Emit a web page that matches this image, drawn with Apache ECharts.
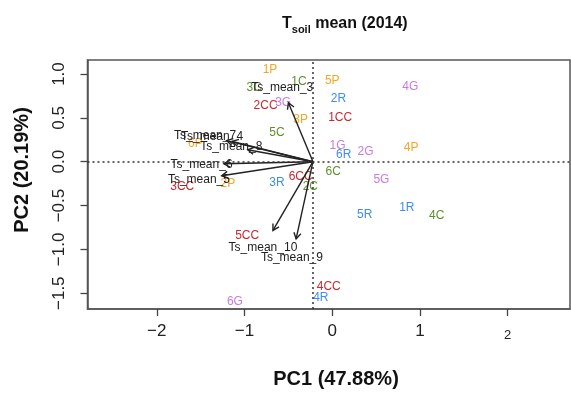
<!DOCTYPE html>
<html>
<head>
<meta charset="utf-8">
<script src="https://cdn.jsdelivr.net/npm/echarts@6/dist/echarts.min.js"></script>
<style>
  html, body { margin: 0; padding: 0; background: #fff; }
  #chart { width: 571px; height: 394px; }
</style>
</head>
<body>
<div id="chart"></div>
<script>
// PCA sample scores (label centre positions)
const sampleLabels = ['1P', '2P', '3P', '4P', '5P', '6P',
  '1C', '2C', '3C', '4C', '5C', '6C',
  '1CC', '2CC', '3CC', '4CC', '5CC', '6CC',
  '1R', '2R', '3R', '4R', '5R', '6R',
  '1G', '2G', '3G', '4G', '5G', '6G']
const samplePC1 = [-0.71, -1.19, -0.36, 0.90, 0.00, -1.56,
  -0.38, -0.25, -0.89, 1.19, -0.63, 0.01,
  0.09, -0.76, -1.71, -0.04, -0.97, -0.36,
  0.85, 0.07, -0.63, -0.13, 0.37, 0.13,
  0.06, 0.38, -0.56, 0.89, 0.56, -1.11]
const samplePC2 = [1.05, -0.25, 0.48, 0.16, 0.92, 0.21,
  0.91, -0.29, 0.84, -0.62, 0.33, -0.11,
  0.50, 0.64, -0.29, -1.43, -0.84, -0.17,
  -0.53, 0.72, -0.24, -1.55, -0.60, 0.08,
  0.18, 0.11, 0.67, 0.85, -0.20, -1.60]

// variable loadings (label positions; arrows drawn to 0.8 of these)
const loadingNames = ['Ts_mean_3', 'Ts_mean_7', 'Ts_mean_4', 'Ts_mean_8',
  'Ts_mean_6', 'Ts_mean_5', 'Ts_mean_10', 'Ts_mean_9']
const loadingPC1 = [-0.57, -1.45, -1.37, -1.15, -1.49, -1.52, -0.79, -0.46]
const loadingPC2 = [0.84, 0.30, 0.29, 0.17, -0.03, -0.20, -0.98, -1.10]
const biplotOrigin = [-0.22, 0]

const xTicks = [-2, -1, 0, 1, 2]
const yTicks = [-1.5, -1, -0.5, 0, 0.5, 1]

const groupColors = { P: '#f5a623', C: '#5e8f2c', CC: '#c8282e', R: '#3f8cf5', G: '#c97ae0' }
const FONT = 'Liberation Sans, Arial, sans-serif'

function groupOf(label) {
  return label.replace(/^\d+/, '')
}
function minus(v) {
  return v < 0 ? '\u2212' + String(Math.abs(v)) : String(v)
}

const chart = echarts.init(document.getElementById('chart'))

chart.setOption({
  animation: false,
  backgroundColor: '#fff',
  title: {
    left: 277,
    top: 8,
    text: '{t|T}{s|soil}{t| mean (2014)}',
    textStyle: {
      rich: {
        t: { fontSize: 16, fontWeight: 'bold', color: '#111', fontFamily: FONT, lineHeight: 22, verticalAlign: 'middle' },
        s: { fontSize: 11, fontWeight: 'bold', color: '#111', fontFamily: FONT, lineHeight: 22, verticalAlign: 'bottom' }
      }
    }
  },
  grid: { left: 87.5, right: 1, top: 60, bottom: 85, show: true, borderColor: '#555', borderWidth: 1.5 },
  xAxis: {
    type: 'value',
    min: -2.79,
    max: 2.71,
    splitLine: { show: false },
    axisLine: { show: true, onZero: false, lineStyle: { color: '#555', width: 1.5 } },
    axisTick: { show: true, length: 7, customValues: xTicks, lineStyle: { color: '#444', width: 1.3 } },
    axisLabel: {
      customValues: xTicks,
      margin: 14,
      fontSize: 17,
      color: '#222',
      fontFamily: FONT,
      formatter: v => v === 2 ? '{small|2}' : minus(v),
      rich: { small: { fontSize: 13, color: '#222', fontFamily: FONT, padding: [6, 0, 0, 0] } }
    }
  },
  yAxis: {
    type: 'value',
    min: -1.68,
    max: 1.16,
    splitLine: { show: false },
    axisLine: { show: true, onZero: false, lineStyle: { color: '#555', width: 1.5 } },
    axisTick: { show: true, length: 7, customValues: yTicks, lineStyle: { color: '#444', width: 1.3 } },
    axisLabel: {
      customValues: yTicks,
      rotate: 90,
      margin: 20,
      fontSize: 17,
      color: '#222',
      fontFamily: FONT,
      formatter: v => (v < 0 ? '\u2212' : '') + Math.abs(v).toFixed(1)
    }
  },
  graphic: [
    { type: 'text', x: 336, y: 379, style: { text: 'PC1 (47.88%)', font: 'bold 20px ' + FONT, fill: '#111', align: 'center', verticalAlign: 'middle' } },
    { type: 'text', x: 22, y: 170, rotation: Math.PI / 2, style: { text: 'PC2 (20.19%)', font: 'bold 20px ' + FONT, fill: '#111', align: 'center', verticalAlign: 'middle' } }
  ],
  series: [
    {
      // sample labels
      type: 'custom',
      data: samplePC1.map((x, i) => [x, samplePC2[i]]),
      encode: { x: 0, y: 1 },
      renderItem: (params, api) => {
        const p = api.coord([api.value(0), api.value(1)])
        const lab = sampleLabels[params.dataIndex]
        return {
          type: 'text',
          x: p[0],
          y: p[1],
          style: { text: lab, fill: groupColors[groupOf(lab)], font: '12px ' + FONT, align: 'center', verticalAlign: 'middle' }
        }
      },
      markLine: {
        silent: true,
        symbol: 'none',
        label: { show: false },
        lineStyle: { type: [2, 3], color: '#333', width: 1.5 },
        data: [{ yAxis: biplotOrigin[1] }, { xAxis: biplotOrigin[0] }]
      }
    },
    {
      // loading arrows
      type: 'custom',
      data: loadingPC1.map((x, i) => [x, loadingPC2[i]]),
      encode: { x: 0, y: 1 },
      renderItem: (params, api) => {
        const o = api.coord(biplotOrigin)
        const tx = biplotOrigin[0] + 0.8 * (api.value(0) - biplotOrigin[0])
        const ty = biplotOrigin[1] + 0.8 * (api.value(1) - biplotOrigin[1])
        const e = api.coord([tx, ty])
        const ang = Math.atan2(e[1] - o[1], e[0] - o[0])
        const hl = 7, spread = Math.PI / 6
        const h1 = [e[0] - hl * Math.cos(ang - spread), e[1] - hl * Math.sin(ang - spread)]
        const h2 = [e[0] - hl * Math.cos(ang + spread), e[1] - hl * Math.sin(ang + spread)]
        const st = { stroke: '#222', lineWidth: 1.4, fill: null }
        return {
          type: 'group',
          children: [
            { type: 'polyline', shape: { points: [o, e] }, style: st },
            { type: 'polyline', shape: { points: [h1, e, h2] }, style: st }
          ]
        }
      }
    },
    {
      // loading labels
      type: 'custom',
      data: loadingPC1.map((x, i) => [x, loadingPC2[i]]),
      encode: { x: 0, y: 1 },
      renderItem: (params, api) => {
        const p = api.coord([api.value(0), api.value(1)])
        return {
          type: 'text',
          x: p[0],
          y: p[1],
          style: { text: loadingNames[params.dataIndex], fill: '#222', font: '12px ' + FONT, align: 'center', verticalAlign: 'middle' }
        }
      }
    }
  ]
})
</script>
</body>
</html>
